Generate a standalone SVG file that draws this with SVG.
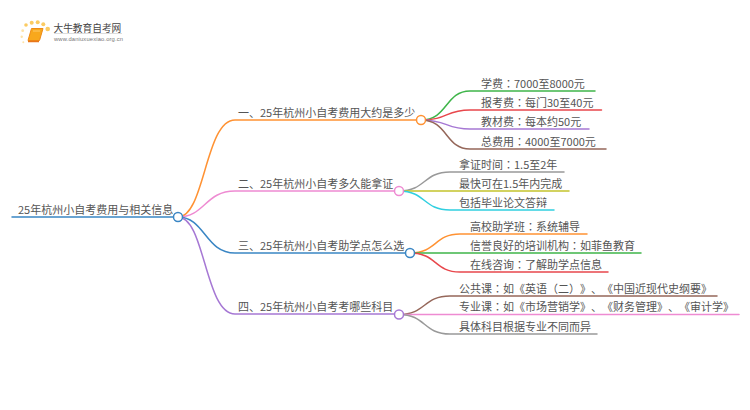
<svg xmlns="http://www.w3.org/2000/svg" width="750" height="410" viewBox="0 0 750 410">
<style>
text{font-family:"Noto Sans CJK SC","Liberation Sans",sans-serif;font-size:11px;fill:#555;text-spacing-trim:space-all}
.p{font-family:"Noto Sans CJK TC",sans-serif}
.c{fill:none;stroke-width:1.5;stroke-linecap:round}
.n{fill:#fff;stroke-width:1.5}
.d{fill:#fbcb62}
.e{fill:#fde3a8}
</style>
<rect width="750" height="410" fill="#fff"/>
<g id="logo">
<circle class="d" cx="26" cy="25" r="1.800"/><circle class="d" cx="31.700" cy="22.700" r="2"/><circle class="d" cx="37.700" cy="22.300" r="2"/><circle class="d" cx="43.300" cy="24.300" r="2"/><circle class="d" cx="47.700" cy="29" r="2.300"/><circle class="e" cx="22.700" cy="30.700" r="1.400"/><circle class="e" cx="21.700" cy="36.700" r="1.200"/><circle class="e" cx="23.300" cy="42.300" r="1"/>
<path d="M31.500 28.500H43L39.500 40.500H28Z" fill="#f8a81c" stroke="#ee8a16" stroke-linejoin="round"/>
<path d="M28 41.500H39" stroke="#e8761a" stroke-width="1.500"/>
<path d="M33 31H40" stroke="#fcd27e" stroke-width="0.800"/>
<text x="53.500" y="32" style="font-size:9.700px;fill:#444">大牛教育自考网</text>
<path d="M54 33.500H122" stroke="#ddd" stroke-width="1"/>
<text x="54" y="41" textLength="69" style="font-size:5.800px;fill:#777;font-family:'Liberation Sans',sans-serif">www.daniuxuexiao.org.cn</text>
</g>
<g id="connectors">
<path class="c" stroke="#3a86c4" d="M12 217H178"/>
<path class="c" stroke="#ff9233" d="M178 217C205 217 205 120 235 120H421"/>
<path class="c" stroke="#ee8bd2" d="M178 217C205 217 205 191 235 191H399"/>
<path class="c" stroke="#3a86c4" d="M178 217C205 217 205 253 235 253H410"/>
<path class="c" stroke="#a678d4" d="M178 217C205 217 205 314 235 314H399"/>
<path class="c" stroke="#3fb54a" d="M421 120C448 120 445 91 470 91H595"/>
<path class="c" stroke="#e8474c" d="M421 120C448 120 445 110 470 110H601.500"/>
<path class="c" stroke="#a678d4" d="M421 120C448 120 445 129 470 129H589"/>
<path class="c" stroke="#95675a" d="M421 120C448 120 445 149 470 149H606"/>
<path class="c" stroke="#999" d="M399 191C426 191 423 172 450 172H564"/>
<path class="c" stroke="#c4c42c" d="M399 191H569"/>
<path class="c" stroke="#30cfe0" d="M399 191C426 191 423 210 450 210H554"/>
<path class="c" stroke="#ff9233" d="M410 253C437 253 434 234 460 234H587"/>
<path class="c" stroke="#3fb54a" d="M410 253H641"/>
<path class="c" stroke="#e8474c" d="M410 253C437 253 434 272 460 272H608"/>
<path class="c" stroke="#95675a" d="M399 314.500C426 314.500 423 296 450 296H717"/>
<path class="c" stroke="#ee8bd2" d="M399 314.500H739"/>
<path class="c" stroke="#999" d="M399 314.500C426 314.500 423 334 450 334H597"/>
</g>
<g id="root"><text x="18" y="214">25年杭州小自考费用与相关信息</text><circle class="n" stroke="#3a86c4" cx="178" cy="217" r="4.500"/></g>
<g id="b1"><text x="238" y="117">一、25年杭州小自考费用大约是多少</text><circle class="n" stroke="#ff9233" cx="421" cy="120" r="4.500"/></g>
<g id="b2"><text x="238" y="188">二、25年杭州小自考多久能拿证</text><circle class="n" stroke="#ee8bd2" cx="399" cy="191" r="4.500"/></g>
<g id="b3"><text x="238" y="250">三、25年杭州小自考助学点怎么选</text><circle class="n" stroke="#3a86c4" cx="410" cy="253" r="4.500"/></g>
<g id="b4"><text x="238" y="311">四、25年杭州小自考考哪些科目</text><circle class="n" stroke="#a678d4" cx="399" cy="314.500" r="4.500"/></g>
<g id="l11"><text x="481" y="88">学费<tspan class="p">：</tspan>7000至8000元</text></g>
<g id="l12"><text x="481" y="107">报考费<tspan class="p">：</tspan>每门30至40元</text></g>
<g id="l13"><text x="481" y="126">教材费<tspan class="p">：</tspan>每本约50元</text></g>
<g id="l14"><text x="481" y="146">总费用<tspan class="p">：</tspan>4000至7000元</text></g>
<g id="l21"><text x="459" y="169">拿证时间<tspan class="p">：</tspan>1.5至2年</text></g>
<g id="l22"><text x="459" y="188">最快可在1.5年内完成</text></g>
<g id="l23"><text x="459" y="207">包括毕业论文答辩</text></g>
<g id="l31"><text x="470" y="231">高校助学班<tspan class="p">：</tspan>系统辅导</text></g>
<g id="l32"><text x="470" y="250">信誉良好的培训机构<tspan class="p">：</tspan>如菲鱼教育</text></g>
<g id="l33"><text x="470" y="269">在线咨询<tspan class="p">：</tspan>了解助学点信息</text></g>
<g id="l41"><text x="459" y="293">公共课<tspan class="p">：</tspan>如《英语（二）》、《中国近现代史纲要》</text></g>
<g id="l42"><text x="459" y="311">专业课<tspan class="p">：</tspan>如《市场营销学》、《财务管理》、《审计学》</text></g>
<g id="l43"><text x="459" y="331">具体科目根据专业不同而异</text></g>
</svg>
